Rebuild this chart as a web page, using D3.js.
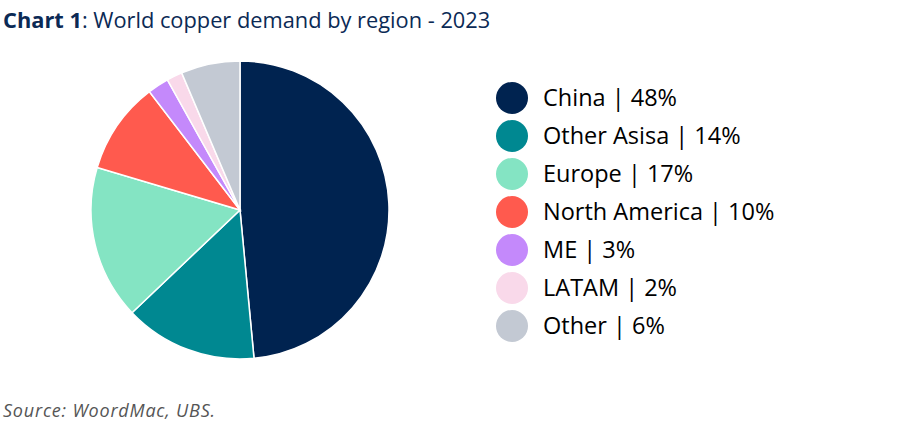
<!DOCTYPE html>
<html>
<head>
<meta charset="utf-8">
<script src="https://cdn.jsdelivr.net/npm/d3@7"></script>
<style>
  body { margin: 0; background: #fff; }
  svg { display: block; font-family: "Open Sans", "Noto Sans", sans-serif; }
</style>
</head>
<body>
<div id="chart"></div>
<script>
var regions = ['China', 'Other Asisa', 'Europe', 'North America', 'ME', 'LATAM', 'Other'];
var shares = [48.5, 14.4, 16.7, 10.0, 2.3, 1.7, 6.4];
var labels = ['48%', '14%', '17%', '10%', '3%', '2%', '6%'];
var colors = ['#002350', '#008891', '#84e4c3', '#ff5a4e', '#c489fb', '#f9d9ea', '#c3c9d3'];

var width = 919, height = 427;
var svg = d3.select('#chart').append('svg').attr('width', width).attr('height', height);

// title
var title = svg.append('text').attr('x', 3).attr('y', 28)
  .style('font-size', '21.8px').style('fill', '#0b2a55');
title.append('tspan').style('font-weight', 'bold').text('Chart 1');
title.append('tspan').text(': World copper demand by region - 2023');

// pie
var data = regions.map(function (r, i) { return { region: r, value: shares[i], color: colors[i] }; });
var pie = d3.pie().value(function (d) { return d.value; }).sort(null);
var arc = d3.arc().innerRadius(0).outerRadius(149);

var g = svg.append('g').attr('transform', 'translate(240,210)');
g.selectAll('path')
  .data(pie(data))
  .enter().append('path')
  .attr('d', arc)
  .style('fill', function (d) { return d.data.color; })
  .style('stroke', '#fff')
  .style('stroke-width', 1.5);

// legend
var y = d3.scaleBand().domain(regions).range([79, 345]).paddingInner(0);
var legend = svg.append('g');
var rows = legend.selectAll('g').data(data).enter().append('g')
  .attr('transform', function (d) { return 'translate(0,' + (y(d.region) + y.bandwidth() / 2) + ')'; });
rows.append('circle').attr('cx', 512).attr('cy', 0).attr('r', 16)
  .style('fill', function (d) { return d.color; });
rows.append('text').attr('x', 543).attr('y', 7.5)
  .style('font-size', '23.5px').style('fill', '#000')
  .text(function (d, i) { return d.region + ' | ' + labels[i]; });

// source
svg.append('text').attr('x', 3).attr('y', 417)
  .style('font-size', '18px').style('font-style', 'italic').style('fill', '#555')
  .style('letter-spacing', '0.8px')
  .text('Source: WoordMac, UBS.');
</script>
</body>
</html>
